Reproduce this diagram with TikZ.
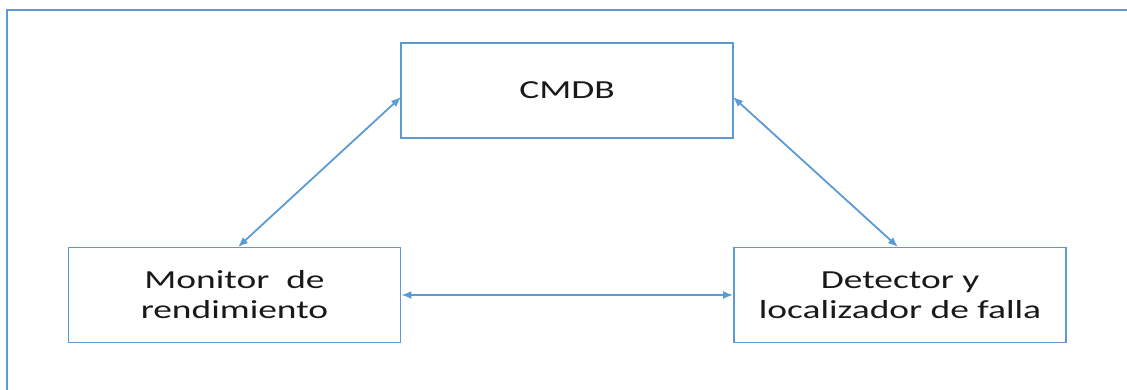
\documentclass[tikz,border=0pt]{standalone}
\usepackage{fontspec}
\setmainfont{Carlito}
\newfontfamily\boxfont[FakeStretch=1.44]{Carlito}
\usetikzlibrary{arrows.meta}
\definecolor{frameblue}{HTML}{5B9BD5}
\begin{document}
\begin{tikzpicture}[x=1pt,y=-1pt,
  box/.style={draw=frameblue,line width=1.8pt,minimum width=332pt,minimum height=95pt,inner sep=0pt,align=center,font=\boxfont\fontsize{26}{30}\selectfont,text=black!90},
  link/.style={draw=frameblue,line width=1.8pt,{Latex[length=10pt,width=8pt]}-{Latex[length=10pt,width=8pt]}}]
\useasboundingbox (0,0) rectangle (1127,389);
\draw[frameblue,line width=2.2pt] (7,10) rectangle (1140,400);
\node[box] (cmdb) at (567,90.5) {CMDB};
\node[box] (mon) at (234.5,295) {Monitor\ \ de\\rendimiento};
\node[box] (det) at (900,295) {Detector y\\localizador de falla};
\coordinate (mt) at (238,247);
\coordinate (dt) at (898,247);
\coordinate (cl) at (401,97);
\coordinate (cr) at (733,97);
\draw[link] (mt) -- (cl);
\draw[link] (cr) -- (dt);
\draw[link] (mon.east) -- (det.west);
\end{tikzpicture}
\end{document}
